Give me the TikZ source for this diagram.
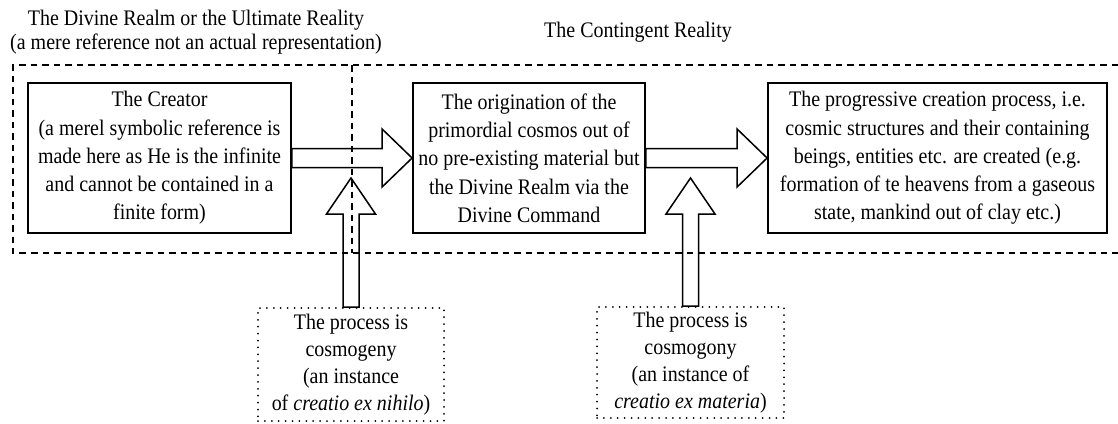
\documentclass[tikz,border=0pt]{standalone}
\usepackage{fontspec}
\setmainfont{Liberation Serif}[FakeStretch=0.9]
\usepackage{tikz}
\usetikzlibrary{calc}
\tikzset{
    textbox/.style={draw, line width=1.8pt, align=center, inner sep=0pt,
        minimum height=150pt, font=\fontsize{22.2}{28.3}\selectfont},
    notebox/.style={draw, line width=2pt, line cap=round, dash pattern=on 0pt off 6.9pt,
        align=center, inner sep=0pt, font=\fontsize{22.2}{27}\selectfont},
    frame/.style={line width=2pt, dash pattern=on 6.5pt off 5pt},
    fat right/.style={line width=1.5pt, to path={
        let \p1=(\tikztostart), \p2=(\tikztotarget) in
        (\x1,\y1+9.5pt) -- (\x2-30pt,\y1+9.5pt) -- (\x2-30pt,\y1+29pt) -- (\x2,\y2)
        -- (\x2-30pt,\y1-29pt) -- (\x2-30pt,\y1-9.5pt) -- (\x1,\y1-9.5pt) -- cycle}},
    fat up/.style={line width=1.5pt, to path={
        let \p1=(\tikztostart), \p2=(\tikztotarget) in
        (\x1-8pt,\y1) -- (\x1-8pt,\y2-36pt) -- (\x1-24.5pt,\y2-36pt) -- (\x2,\y2)
        -- (\x1+24.5pt,\y2-36pt) -- (\x1+8pt,\y2-36pt) -- (\x1+8pt,\y1) -- cycle}},
}

\begin{document}
\begin{tikzpicture}[x=1pt, y=-1pt]
\useasboundingbox (0,0) rectangle (1118,423);

% the two realms
\draw[frame] (1118,65) -- (13,65) -- (13,253) -- (1118,253);
\draw[frame] (352,65) -- (352,253);
\node[align=center, inner sep=0pt, font=\fontsize{22.2}{24}\selectfont] (divine) at (196,32)
    {The Divine Realm or the Ultimate Reality\\(a mere reference not an actual representation)};
\node[anchor=base, inner sep=0pt, font=\fontsize{22.2}{24}\selectfont] (contingent) at (638,37.5)
    {The Contingent Reality};

\node[textbox, minimum width=263pt] (creator) at (159.5,158)
    {The Creator\\(a merel symbolic reference is\\made here as He is the infinite\\and cannot be contained in a\\finite form)};
\node[textbox, minimum width=232pt] (origin) at (529,158)
    {The origination of the\\primordial cosmos out of\\no pre-existing material but\\the Divine Realm via the\\Divine Command};
\node[textbox, minimum width=339pt] (progress) at (937.5,158)
    {The progressive creation process, i.e.\\cosmic structures and their containing\\beings, entities etc. are created (e.g.\\formation of te heavens from a gaseous\\state, mankind out of clay etc.)};

\node[notebox, minimum width=186pt, minimum height=113pt] (nihilo) at (351,364.5)
    {The process is\\cosmogeny\\(an instance\\of \textit{creatio ex nihilo})};
\node[notebox, minimum width=187pt, minimum height=111pt] (materia) at (690.5,362.5)
    {The process is\\cosmogony\\(an instance of\\\textit{creatio ex materia})};

\draw[fat right] (creator.east) to (origin.west);
\draw[fat right] (origin.east) to (progress.west);
\coordinate (niltip) at (nihilo.north |- 0,178);
\coordinate (mattip) at (materia.north |- 0,178);
\draw[fat up] (nihilo.north) to (niltip);
\draw[fat up] (materia.north) to (mattip);
\end{tikzpicture}
\end{document}
